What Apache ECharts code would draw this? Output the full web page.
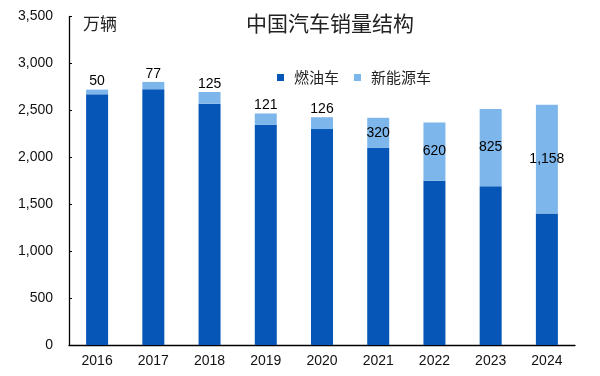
<!DOCTYPE html>
<html>
<head>
<meta charset="utf-8">
<script src="https://cdn.jsdelivr.net/npm/echarts@6/dist/echarts.min.js"></script>
<style>
  html, body { margin: 0; padding: 0; background: #fff; }
  #chart { width: 600px; height: 376px; }
</style>
</head>
<body>
<div id="chart"></div>
<script>
let years = ['2016', '2017', '2018', '2019', '2020', '2021', '2022', '2023', '2024'];
let fuelCars = [2670, 2725, 2570, 2345, 2300, 2100, 1750, 1690, 1400];
let newEnergy = [50, 77, 125, 121, 126, 320, 620, 825, 1158];
let yTicks = [0, 500, 1000, 1500, 2000, 2500, 3000, 3500];

let fmt = function (v) {
    return Number(v).toLocaleString('en-US');
};

let chart = echarts.init(document.getElementById('chart'));

// small ones sit on top of the bar, large ones inside the light segment
let nevData = newEnergy.map(function (v) {
    return {
        value: v,
        label: v < 200
            ? { position: 'top', distance: 1 }
            : { position: 'inside' }
    };
});

let option = {
    animation: false,
    textStyle: { fontFamily: 'Liberation Sans, Arial, sans-serif' },
    title: {
        text: '中国汽车销量结构',
        left: 325,
        top: 8,
        textAlign: 'center',
        textStyle: {
            fontFamily: 'Noto Sans CJK SC',
            fontSize: 21,
            fontWeight: 'normal',
            color: '#222'
        }
    },
    graphic: [{
        type: 'text',
        left: 83,
        top: 15,
        style: {
            text: '万辆',
            font: '17px "Noto Sans CJK SC"',
            fill: '#222'
        }
    }],
    legend: {
        top: 65,
        left: 272,
        itemWidth: 7,
        itemHeight: 7,
        itemGap: 15,
        icon: 'rect',
        textStyle: {
            fontFamily: 'Noto Sans CJK SC',
            fontSize: 15,
            color: '#222',
            padding: [0, 0, 0, 5]
        },
        data: ['燃油车', '新能源车']
    },
    grid: {
        left: 69,
        right: 25,
        top: 16.4,
        bottom: 31
    },
    xAxis: {
        type: 'category',
        data: years,
        axisLine: { lineStyle: { color: '#000', width: 1.3 } },
        axisTick: { show: false },
        axisLabel: { color: '#111', fontSize: 14, margin: 9 }
    },
    yAxis: {
        type: 'value',
        min: yTicks[0],
        max: yTicks[yTicks.length - 1],
        interval: 500,
        axisLine: { show: true, lineStyle: { color: '#000', width: 1.3 } },
        axisTick: { show: true, inside: true, length: 3, lineStyle: { color: '#000' } },
        splitLine: { show: false },
        axisLabel: {
            color: '#111',
            fontSize: 14,
            margin: 16,
            formatter: fmt
        }
    },
    series: [
        {
            name: '燃油车',
            type: 'bar',
            stack: 'total',
            barWidth: 22,
            itemStyle: { color: '#0556B6' },
            data: fuelCars
        },
        {
            name: '新能源车',
            type: 'bar',
            stack: 'total',
            barWidth: 22,
            itemStyle: { color: '#7DB6EB' },
            label: {
                show: true,
                color: '#000',
                fontSize: 14,
                formatter: function (p) { return fmt(p.value); }
            },
            data: nevData
        }
    ]
};
option && chart.setOption(option);
</script>
</body>
</html>
